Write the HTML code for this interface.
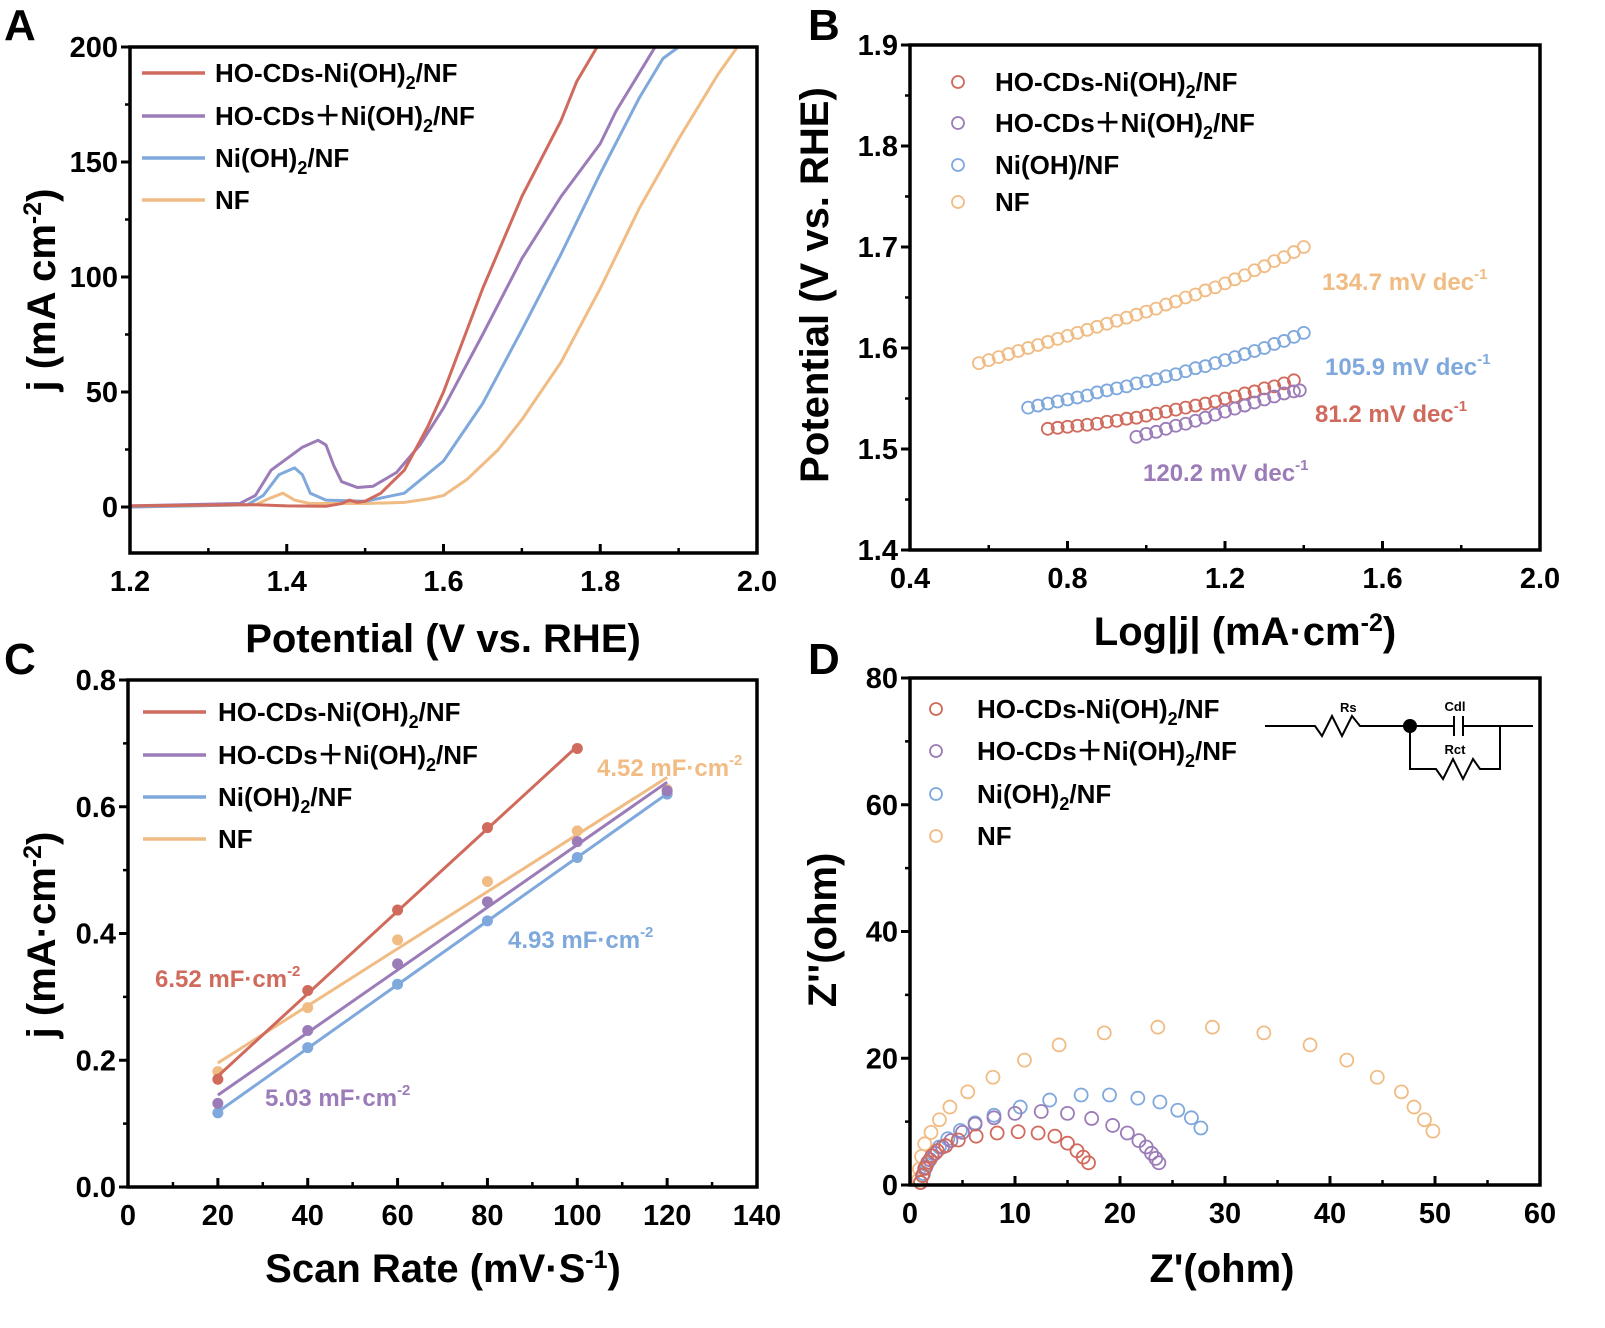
<!DOCTYPE html>
<html><head><meta charset="utf-8">
<style>
html,body{margin:0;padding:0;background:#fff;}
svg{display:block;font-family:"Liberation Sans",Arial,sans-serif;font-weight:bold;}
</style></head>
<body>
<svg id="fig" width="1605" height="1328" viewBox="0 0 1605 1328" xmlns="http://www.w3.org/2000/svg"></svg>
<script>
// ===== Panel A data (LSV) =====
const aRedV=[1.2,1.34,1.36,1.40,1.45,1.47,1.48,1.49,1.50,1.52,1.55,1.58,1.60,1.65,1.70,1.75,1.77,1.796];
const aRedJ=[0.5,1,1,0.5,0.3,1.5,3,2,2.5,6,16,35,50,95,135,168,185,200];
const aPurV=[1.2,1.34,1.36,1.38,1.40,1.42,1.44,1.45,1.46,1.47,1.49,1.51,1.54,1.57,1.60,1.65,1.70,1.75,1.80,1.82,1.87];
const aPurJ=[0.5,1.5,5,16,21,26,29,27,18,11,8.5,9,15,27,43,75,108,135,158,172,200];
const aBluV=[1.2,1.35,1.37,1.39,1.41,1.42,1.43,1.45,1.50,1.55,1.60,1.65,1.70,1.75,1.80,1.85,1.88,1.90];
const aBluJ=[0,1,5,14,17,14,6,3,2.5,6,20,45,77,110,145,178,195,200];
const aOraV=[1.2,1.36,1.38,1.395,1.41,1.43,1.5,1.55,1.58,1.60,1.63,1.67,1.70,1.75,1.80,1.85,1.90,1.95,1.975];
const aOraJ=[0,1,4,6,3,1.5,1.5,2,3.5,5,12,25,38,63,95,130,160,188,200];
const aXTicks=["1.2","1.4","1.6","1.8","2.0"];
const aYTicks=["0","50","100","150","200"];
// ===== Panel B data (Tafel) =====
const bOraX=[0.575,0.6,0.625,0.65,0.675,0.7,0.725,0.75,0.775,0.8,0.825,0.85,0.875,0.9,0.925,0.95,0.975,1.0,1.025,1.05,1.075,1.1,1.125,1.15,1.175,1.2,1.225,1.25,1.275,1.3,1.325,1.35,1.375,1.4];
const bOraY=[1.585,1.588,1.591,1.594,1.597,1.600,1.603,1.606,1.609,1.612,1.615,1.618,1.621,1.624,1.627,1.630,1.633,1.636,1.639,1.643,1.646,1.650,1.653,1.657,1.660,1.664,1.668,1.672,1.677,1.681,1.686,1.690,1.695,1.700];
const bBluX=[0.7,0.725,0.75,0.775,0.8,0.825,0.85,0.875,0.9,0.925,0.95,0.975,1.0,1.025,1.05,1.075,1.1,1.125,1.15,1.175,1.2,1.225,1.25,1.275,1.3,1.325,1.35,1.375,1.4];
const bBluY=[1.541,1.543,1.545,1.547,1.549,1.551,1.553,1.556,1.558,1.560,1.562,1.565,1.567,1.569,1.572,1.574,1.577,1.580,1.582,1.585,1.588,1.591,1.594,1.597,1.600,1.604,1.607,1.611,1.615];
const bRedX=[0.75,0.775,0.8,0.825,0.85,0.875,0.9,0.925,0.95,0.975,1.0,1.025,1.05,1.075,1.1,1.125,1.15,1.175,1.2,1.225,1.25,1.275,1.3,1.325,1.35,1.375];
const bRedY=[1.520,1.521,1.522,1.523,1.524,1.525,1.527,1.528,1.530,1.531,1.533,1.535,1.537,1.539,1.541,1.543,1.545,1.547,1.550,1.552,1.555,1.557,1.560,1.562,1.565,1.568];
const bPurX=[0.975,1.0,1.025,1.05,1.075,1.1,1.125,1.15,1.175,1.2,1.225,1.25,1.275,1.3,1.325,1.35,1.375,1.39];
const bPurY=[1.512,1.515,1.517,1.520,1.523,1.525,1.528,1.531,1.534,1.537,1.540,1.543,1.546,1.549,1.552,1.555,1.557,1.558];
const bXTicks=["0.4","0.8","1.2","1.6","2.0"];
const bYTicks=["1.4","1.5","1.6","1.7","1.8","1.9"];
// ===== Panel C data (Cdl) =====
const cRate=[20,40,60,80,100,120];
const cRed=[0.17,0.31,0.437,0.567,0.692];
const cPur=[0.132,0.247,0.352,0.45,0.545,0.625];
const cBlu=[0.117,0.22,0.32,0.42,0.52,0.62];
const cOra=[0.182,0.283,0.39,0.482,0.562,0.627];
const cXTicks=["0","20","40","60","80","100","120","140"];
const cYTicks=["0.0","0.2","0.4","0.6","0.8"];
// ===== Panel D data (Nyquist) =====
const dRedX=[1.0,1.2,1.4,1.7,2.1,2.6,3.4,4.6,6.3,8.3,10.3,12.2,13.8,15.0,15.9,16.5,17.0];
const dRedY=[0.4,1.5,2.6,3.6,4.6,5.4,6.2,7.1,7.7,8.2,8.4,8.2,7.7,6.6,5.4,4.4,3.5];
const dPurX=[1.0,1.2,1.5,1.9,2.4,3.1,3.9,5.0,6.2,8.0,10.0,12.5,15.0,17.3,19.3,20.7,21.8,22.5,23.0,23.4,23.7];
const dPurY=[0.4,1.5,2.8,4.0,5.0,6.0,7.0,8.3,9.6,10.6,11.3,11.6,11.3,10.5,9.4,8.2,7.0,6.0,5.0,4.2,3.5];
const dBluX=[1.0,1.3,1.6,2.1,2.8,3.6,4.8,6.2,8.0,10.5,13.3,16.3,19.0,21.7,23.8,25.5,26.8,27.7];
const dBluY=[0.4,1.8,3.2,4.6,6.0,7.3,8.6,9.8,11.0,12.3,13.4,14.2,14.2,13.7,13.1,11.8,10.6,9.0];
const dOraX=[0.8,0.9,1.1,1.4,2.0,2.8,3.8,5.5,7.9,10.9,14.2,18.5,23.6,28.8,33.7,38.1,41.6,44.5,46.8,48.0,49.0,49.8];
const dOraY=[0.8,2.5,4.5,6.5,8.3,10.3,12.3,14.7,17.0,19.7,22.1,24.0,24.9,24.9,24.0,22.1,19.7,17.0,14.7,12.3,10.3,8.5];
const dXTicks=["0","10","20","30","40","50","60"];
const dYTicks=["0","20","40","60","80"];

const COL={red:"#d06a5c",pur:"#9c7cb8",blu:"#7fa8dc",ora:"#f1bc84"};
const NS="http://www.w3.org/2000/svg";
const svg=document.getElementById('fig');
function mk(tag,attrs,parent){const e=document.createElementNS(NS,tag);for(const k in attrs)e.setAttribute(k,attrs[k]);(parent||svg).appendChild(e);return e;}
function txt(parent,x,y,str,size,fill,anchor,extra){const t=mk('text',Object.assign({x:x,y:y,'font-size':size,fill:fill||'#000','text-anchor':anchor||'start'},extra||{}),parent);t.innerHTML=str;return t;}

function makeAxis(L,R,T,B,x0,x1,y0,y1){
  return {sx:v=>L+(v-x0)/(x1-x0)*(R-L), sy:v=>B-(v-y0)/(y1-y0)*(B-T),L,R,T,B};
}
function frame(g,ax,xt,yt,xStep0,xStep,yStep0,yStep){
  mk('rect',{x:ax.L,y:ax.T,width:ax.R-ax.L,height:ax.B-ax.T,fill:'none',stroke:'#000','stroke-width':3.5},g);
  xt.forEach((s,i)=>{const v=xStep0+i*xStep,x=ax.sx(v);
    mk('line',{x1:x,x2:x,y1:ax.B,y2:ax.B-9,stroke:'#000','stroke-width':3},g);
    if(i<xt.length-1){const xm=ax.sx(v+xStep/2);mk('line',{x1:xm,x2:xm,y1:ax.B,y2:ax.B-5,stroke:'#000','stroke-width':2.5},g);}
    const t=txt(g,x,ax.B+38,s,29,'#000','middle');});
  yt.forEach((s,i)=>{const v=yStep0+i*yStep,y=ax.sy(v);
    mk('line',{x1:ax.L,x2:ax.L-9,y1:y,y2:y,stroke:'#000','stroke-width':3},g);
    if(i<yt.length-1){const ym=ax.sy(v+yStep/2);mk('line',{x1:ax.L,x2:ax.L-5,y1:ym,y2:ym,stroke:'#000','stroke-width':2.5},g);}
    const t=txt(g,ax.L-12,y+10,s,29,'#000','end');});
}
function grp(name){const g=mk('g',{});return g;}
function line(g,ax,xs,ys,col,name){const p=mk('polyline',{points:xs.map((v,i)=>ax.sx(v)+','+ax.sy(ys[i])).join(' '),fill:'none',stroke:col,'stroke-width':3,'stroke-linejoin':'round'},g);}
function circles(g,ax,xs,ys,col,r,name){xs.forEach((v,i)=>{const c=mk('circle',{cx:ax.sx(v),cy:ax.sy(ys[i]),r:r,fill:'none',stroke:col,'stroke-width':1.8},g);});}
const L1="HO-CDs-Ni(OH)<tspan font-size='18' dy='7'>2</tspan><tspan dy='-7'>/NF</tspan>";
const L2="HO-CDs＋Ni(OH)<tspan font-size='18' dy='7'>2</tspan><tspan dy='-7'>/NF</tspan>";
const L3="Ni(OH)<tspan font-size='18' dy='7'>2</tspan><tspan dy='-7'>/NF</tspan>";
function legendLines(g,x,ys,labels,cols,tx){ys.forEach((y,i)=>{const l=mk('line',{x1:x,x2:x+63,y1:y,y2:y,stroke:cols[i],'stroke-width':3.5},g);const t=txt(g,tx,y+9,labels[i],26);});}
function legendCircles(g,x,ys,labels,cols,tx){ys.forEach((y,i)=>{const c=mk('circle',{cx:x,cy:y,r:6,fill:'none',stroke:cols[i],'stroke-width':1.8},g);const t=txt(g,tx,y+9,labels[i],26);});}
function panelLetter(g,x,y,s){const t=txt(g,x,y,s,44);}
function yTitle(g,x,y,str,size){const t=txt(g,0,0,str,size||40,'#000','middle',{transform:`translate(${x},${y}) rotate(-90)`});}
function xTitle(g,x,y,str,size){const t=txt(g,x,y,str,size||40,'#000','middle');}
const cols=[COL.red,COL.pur,COL.blu,COL.ora];

// ===== Panel A =====
{const g=grp('panel-a-lsv');const ax=makeAxis(130,757,47,553,1.2,2.0,-20,200);
 const cl=mk('clipPath',{id:'ca'},g);mk('rect',{x:130,y:47,width:627,height:506},cl);
 const s=mk('g',{'clip-path':'url(#ca)'},g);
 line(s,ax,aOraV,aOraJ,COL.ora,'series-nf');line(s,ax,aBluV,aBluJ,COL.blu,'series-nioh2');
 line(s,ax,aPurV,aPurJ,COL.pur,'series-hocds-plus-nioh2');line(s,ax,aRedV,aRedJ,COL.red,'series-hocds-nioh2');
 frame(g,ax,aXTicks,aYTicks,1.2,0.2,0,50);
 legendLines(g,142,[73,116,158,200],[L1,L2,L3,"NF"],cols,215);
 panelLetter(g,4,40,"A");
 yTitle(g,55,290,"j (mA cm<tspan font-size='25' dy='-14'>-2</tspan><tspan dy='14'>)</tspan>");
 xTitle(g,443,652,"Potential (V vs. RHE)");}

// ===== Panel B =====
{const g=grp('panel-b-tafel');const ax=makeAxis(910,1540,45,550,0.4,2.0,1.4,1.9);
 circles(g,ax,bOraX,bOraY,COL.ora,6,'point-nf');circles(g,ax,bBluX,bBluY,COL.blu,6,'point-nioh2');
 circles(g,ax,bRedX,bRedY,COL.red,6,'point-hocds-nioh2');circles(g,ax,bPurX,bPurY,COL.pur,6,'point-hocds-plus-nioh2');
 frame(g,ax,bXTicks,bYTicks,0.4,0.4,1.4,0.1);
 legendCircles(g,958,[82,123,165,202],[L1,L2,"Ni(OH)/NF","NF"],cols,995);
 panelLetter(g,808,40,"B");
 const sup=s=>`<tspan font-size='15' dy='-11'>${s}</tspan>`;
 [[1322,290,"134.7 mV dec"+sup("-1"),COL.ora],[1325,375,"105.9 mV dec"+sup("-1"),COL.blu],[1315,422,"81.2 mV dec"+sup("-1"),COL.red],[1143,481,"120.2 mV dec"+sup("-1"),COL.pur]].forEach(a=>{const t=txt(g,a[0],a[1],a[2],24,a[3]);});
 yTitle(g,828,285,"Potential (V vs. RHE)");
 xTitle(g,1245,645,"Log|j| (mA·cm<tspan font-size='25' dy='-14'>-2</tspan><tspan dy='14'>)</tspan>");}

// ===== Panel C =====
{const g=grp('panel-c-cdl');const ax=makeAxis(128,757,680,1187,0,140,0,0.8);
 const fit=(ys)=>{const xs=cRate.slice(0,ys.length),n=ys.length;const mx=xs.reduce((a,b)=>a+b)/n,my=ys.reduce((a,b)=>a+b)/n;let sxy=0,sxx=0;xs.forEach((x,i)=>{sxy+=(x-mx)*(ys[i]-my);sxx+=(x-mx)**2;});const k=sxy/sxx;return [xs[0],xs[n-1]].map(x=>my+k*(x-mx));};
 [[cOra,COL.ora,'nf'],[cBlu,COL.blu,'nioh2'],[cPur,COL.pur,'hocds-plus-nioh2'],[cRed,COL.red,'hocds-nioh2']].forEach(d=>{
   const xs=cRate.slice(0,d[0].length);const f=fit(d[0]);
   line(g,ax,[xs[0],xs[xs.length-1]],f,d[1],'fit-line-'+d[2]);
   xs.forEach((x,i)=>{const c=mk('circle',{cx:ax.sx(x),cy:ax.sy(d[0][i]),r:5.5,fill:d[1]},g);});});
 frame(g,ax,cXTicks,cYTicks,0,20,0,0.2);
 legendLines(g,143,[712,755,797,839],[L1,L2,L3,"NF"],cols,218);
 panelLetter(g,4,674,"C");
 const sup=s=>`<tspan font-size='15' dy='-11'>${s}</tspan>`;
 [[597,776,"4.52 mF·cm"+sup("-2"),COL.ora],[508,948,"4.93 mF·cm"+sup("-2"),COL.blu],[155,987,"6.52 mF·cm"+sup("-2"),COL.red],[265,1106,"5.03 mF·cm"+sup("-2"),COL.pur]].forEach(a=>{const t=txt(g,a[0],a[1],a[2],24,a[3]);});
 yTitle(g,55,935,"j (mA·cm<tspan font-size='25' dy='-14'>-2</tspan><tspan dy='14'>)</tspan>");
 xTitle(g,443,1282,"Scan Rate (mV·S<tspan font-size='25' dy='-14'>-1</tspan><tspan dy='14'>)</tspan>");}

// ===== Panel D =====
{const g=grp('panel-d-nyquist');const ax=makeAxis(910,1540,678,1185,0,60,0,80);
 circles(g,ax,dOraX,dOraY,COL.ora,6.5,'point-nf');circles(g,ax,dBluX,dBluY,COL.blu,6.5,'point-nioh2');
 circles(g,ax,dPurX,dPurY,COL.pur,6.5,'point-hocds-plus-nioh2');circles(g,ax,dRedX,dRedY,COL.red,6.5,'point-hocds-nioh2');
 frame(g,ax,dXTicks,dYTicks,0,10,0,20);
 legendCircles(g,936,[709,751,794,836],[L1,L2,L3,"NF"],cols,977);
 panelLetter(g,808,674,"D");
 const ci=mk('g',{fill:'none',stroke:'#000','stroke-width':2},g);
 mk('polyline',{points:'1265,726 1315,726 1322,736 1332,716 1342,736 1352,716 1360,726 1454,726'},ci);
 mk('line',{x1:1454,x2:1454,y1:716,y2:736},ci);mk('line',{x1:1463,x2:1463,y1:716,y2:736},ci);
 mk('polyline',{points:'1463,726 1533,726'},ci);
 mk('polyline',{points:'1410,726 1410,769 1436,769 1443,779 1453,759 1463,779 1473,759 1480,769 1500,769 1500,726'},ci);
 mk('circle',{cx:1410,cy:726,r:6,fill:'#000'},ci);
 txt(g,1340,712,"Rs",13);txt(g,1455,711,"Cdl",13,'#000','middle');txt(g,1455,754,"Rct",13,'#000','middle');
 yTitle(g,836,930,"Z''(ohm)");
 xTitle(g,1222,1282,"Z'(ohm)");}
</script>
</body></html>
